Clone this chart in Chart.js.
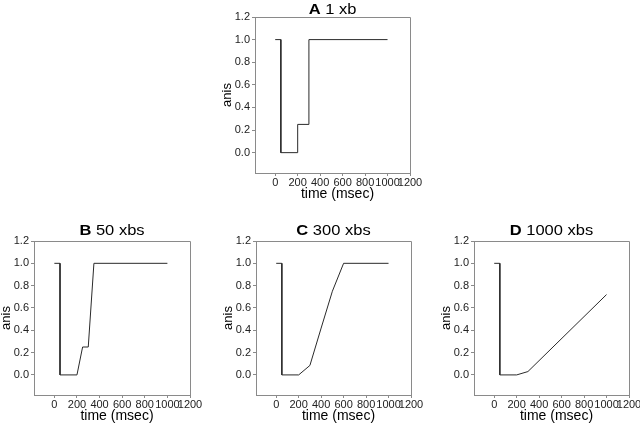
<!DOCTYPE html>
<html><head><meta charset="utf-8">
<script src="https://cdn.jsdelivr.net/npm/chart.js@4/dist/chart.umd.min.js"></script>
<style>
html,body{margin:0;padding:0;background:#fff;overflow:hidden;}
#wrap{position:relative;width:640px;height:426px;font-family:"Liberation Sans",Arial,sans-serif;}
.title{position:absolute;text-align:center;font-size:15px;line-height:15px;color:#000;transform:scaleX(1.1);white-space:nowrap}
canvas{position:absolute}
</style></head><body><div id="wrap"></div>
<script>
const panelLetters = ["A", "B", "C", "D"];
const panelLabels = ["1 xb", "50 xbs", "300 xbs", "1000 xbs"];
const timeA = [0, 50, 50, 50, 200, 200, 300, 300, 1000];
const anisA = [1, 1, 0.5, 0, 0, 0.25, 0.25, 1, 1];
const timeB = [0, 50, 50, 50, 200, 250, 300, 350, 1000];
const anisB = [1, 1, 0.5, 0, 0, 0.25, 0.25, 1, 1];
const timeC = [0, 50, 50, 50, 200, 300, 400, 500, 600, 1000];
const anisC = [1, 1, 0.5, 0, 0, 0.085, 0.42, 0.75, 1, 1];
const timeD = [0, 50, 50, 50, 200, 300, 1000];
const anisD = [1, 1, 0.5, 0, 0, 0.03, 0.72];
const xTicks = [0, 200, 400, 600, 800, 1000, 1200];
const yTicks = [0, 0.2, 0.4, 0.6, 0.8, 1.0, 1.2];
const xTitle = "time (msec)";
const yTitle = "anis";

const FONT = '"Liberation Sans", Arial, sans-serif';
const FRAME = '#8a8a8a';
const wrap = document.getElementById('wrap');

const frame = {
  id: 'frame',
  afterDraw(c) {
    const a = c.chartArea, ctx = c.ctx;
    ctx.save();
    ctx.strokeStyle = FRAME; ctx.lineWidth = 1;
    ctx.beginPath();
    ctx.moveTo(a.left, a.top + 0.5);
    ctx.lineTo(a.right + 0.5, a.top + 0.5);
    ctx.lineTo(a.right + 0.5, a.bottom + 1);
    ctx.stroke();
    // x-axis title, slightly right of centre as in the original figure
    ctx.fillStyle = '#000';
    ctx.font = '14px ' + FONT;
    ctx.textAlign = 'center';
    ctx.textBaseline = 'middle';
    ctx.fillText(xTitle, (a.left + a.right) / 2 + 5, a.bottom + 21.5);
    ctx.restore();
  }
};

function makePanel(i, times, anis, box, titleY) {
  const Y_W = 45, X_H = 30, PT = 10, PR = 14, PB = 2;
  const w = box.r - box.l + Y_W + PR, h = box.b - box.t + PT + X_H + PB;
  const cv = document.createElement('canvas');
  cv.width = w; cv.height = h;
  cv.style.left = (box.l - Y_W) + 'px'; cv.style.top = (box.t - PT) + 'px';
  cv.style.width = w + 'px'; cv.style.height = h + 'px';
  wrap.appendChild(cv);

  const t = document.createElement('div');
  t.className = 'title';
  t.style.left = box.l + 'px'; t.style.width = (box.r - box.l) + 'px';
  t.style.top = (titleY - 7.3) + 'px';
  const b = document.createElement('b'); b.textContent = panelLetters[i];
  t.appendChild(b); t.appendChild(document.createTextNode(' ' + panelLabels[i]));
  wrap.appendChild(t);

  new Chart(cv, {
    type: 'line',
    data: { datasets: [{
      data: times.map((x, k) => ({ x: x, y: anis[k] })),
      borderColor: '#2a2a2a', borderWidth: 1, pointRadius: 0, tension: 0, fill: false
    }] },
    options: {
      responsive: false, animation: false, devicePixelRatio: 1,
      layout: { padding: { left: 0, top: PT, right: PR, bottom: PB } },
      plugins: { legend: { display: false }, tooltip: { enabled: false } },
      scales: {
        x: {
          type: 'linear', min: -180, max: 1200,
          afterBuildTicks: s => { s.ticks = xTicks.map(v => ({ value: v })); },
          afterFit: s => { s.height = X_H; s.paddingLeft = 0; s.paddingRight = 0; },
          grid: { drawOnChartArea: false, drawTicks: true, tickLength: 3, color: FRAME },
          border: { color: FRAME },
          ticks: { color: '#222', font: { size: 11, family: FONT }, padding: 0, maxRotation: 0, autoSkip: false, callback: v => String(v) },
          title: { display: false }
        },
        y: {
          type: 'linear', min: -0.18, max: 1.2,
          afterBuildTicks: s => { s.ticks = yTicks.map(v => ({ value: v })); },
          afterFit: s => { s.width = Y_W; s.paddingTop = 0; s.paddingBottom = 0; },
          grid: { drawOnChartArea: false, drawTicks: true, tickLength: 3, color: FRAME },
          border: { color: FRAME },
          ticks: { color: '#222', font: { size: 11, family: FONT }, padding: 2, autoSkip: false, callback: v => Number(v).toFixed(1) },
          title: { display: true, text: yTitle, color: '#000', font: { size: 13, family: FONT }, padding: { top: 10, bottom: 0 } }
        }
      }
    },
    plugins: [frame]
  });
}

makePanel(0, timeA, anisA, { l: 255, r: 410, t: 17, b: 173 }, 8.7);
makePanel(1, timeB, anisB, { l: 34, r: 190, t: 241, b: 395 }, 228.8);
makePanel(2, timeC, anisC, { l: 256, r: 411, t: 241, b: 395 }, 228.8);
makePanel(3, timeD, anisD, { l: 474, r: 629, t: 241, b: 395 }, 228.8);
</script></body></html>
